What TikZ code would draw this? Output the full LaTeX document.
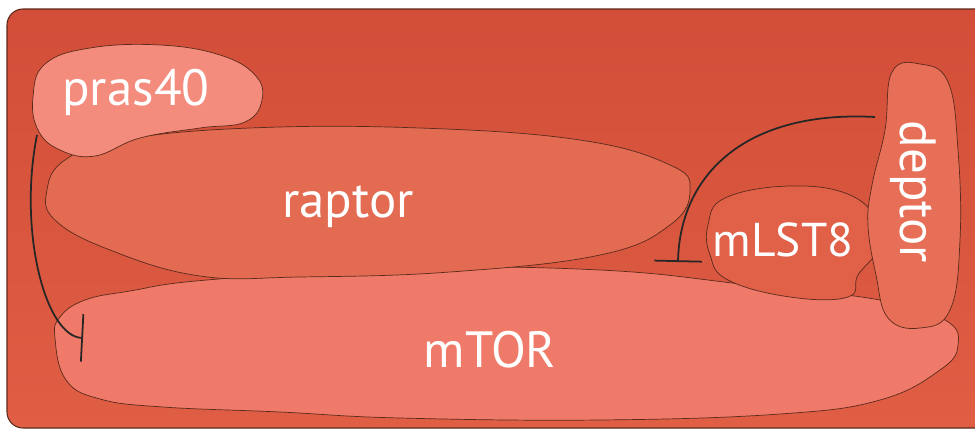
\documentclass[tikz,border=0pt]{standalone}
\usepackage{fontspec}
\setmainfont{PT Sans}
\usetikzlibrary{arrows.meta}

\definecolor{bgtop}{HTML}{D34E38}
\definecolor{bgbot}{HTML}{DF5E44}
\definecolor{edge}{HTML}{5A2A1C}
\definecolor{prasc}{HTML}{F38C7D}
\definecolor{raptorc}{HTML}{E26B52}
\definecolor{mtorc}{HTML}{F07A69}
\definecolor{mlstc}{HTML}{E06048}
\definecolor{deptorc}{HTML}{E76E57}

\begin{document}
\begin{tikzpicture}[
  x=0.2mm, y=-0.2mm,
  >=Stealth,
  every node/.style={font=\fontsize{29}{32}\selectfont, text=white},
  blob/.style={draw=edge, line width=0.4pt},
  inhib/.style={-{Bar[width=9.5mm, line width=1pt]}, line width=1pt, black!85},
]
\useasboundingbox (0,0) rectangle (975,432);

% Background
\begin{scope}
  \clip (0,0) rectangle (975,432);
  \shadedraw[top color=bgtop, bottom color=bgbot, draw=edge, line width=0.6pt,
    rounded corners=3.2mm] (7,9) rectangle (995,428);
\end{scope}

% Subunits
\draw[blob, fill=mtorc] plot[smooth cycle, tension=0.7] coordinates {
  (55,338) (60,317) (85,300) (130,291) (207,280) (400,268) (600,270)
  (750,285) (880,300) (945,320) (958,345) (940,370) (880,400) (780,414)
  (600,420) (400,418) (280,412) (163,407) (100,399) (66,380)};
\draw[blob, fill=raptorc] plot[smooth cycle, tension=0.7] coordinates {
  (47,190) (65,160) (120,140) (250,128) (420,128) (580,140) (670,165)
  (690,190) (670,225) (600,255) (450,272) (300,277) (200,276) (110,250)
  (55,220)};
\draw[blob, fill=prasc] plot[smooth cycle, tension=0.7] coordinates {
  (33,97) (45,64) (90,48) (160,45) (220,55) (255,75) (262,100) (245,122)
  (200,128) (140,138) (95,156) (60,150) (38,130)};
\draw[blob, fill=mlstc] plot[smooth cycle, tension=0.7] coordinates {
  (708,225) (725,198) (790,186) (850,195) (880,225) (878,250) (858,275)
  (848,297) (790,297) (728,280) (710,255)};
\draw[blob, fill=deptorc] plot[smooth cycle, tension=0.7] coordinates {
  (892,72) (920,64) (948,82) (958,150) (960,240) (950,310) (920,328)
  (888,318) (876,275) (868,225) (872,185) (885,130)};

% Labels
\node (pras40) at (136,92) {pras40};
\node (raptor) at (348,207) {raptor};
\node (mTOR) at (490,350) {mTOR};
\node[font=\fontsize{27}{30}\selectfont] (mLST8) at (783,240) {mLST8};
\node[rotate=-90] (deptor) at (913,192) {deptor};

% Inhibitions
\coordinate (pras40 tail) at (37,135);
\coordinate (mTOR stop) at (83,338);
\coordinate (deptor tail) at (875,117);
\coordinate (mLST8 stop) at (678,262);
\draw[inhib] (pras40 tail) .. controls (18,230) and (45,336) .. (mTOR stop);
\draw[inhib] (deptor tail) .. controls (745,110) and (680,175) .. (mLST8 stop);
\end{tikzpicture}
\end{document}
